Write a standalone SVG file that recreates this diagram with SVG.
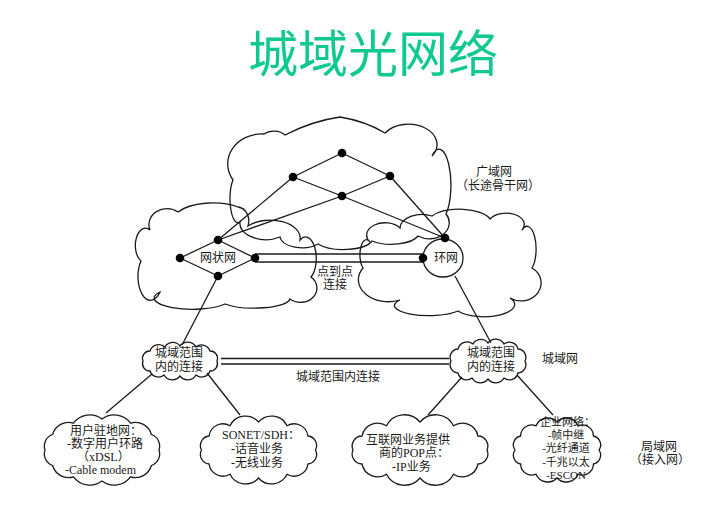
<svg xmlns="http://www.w3.org/2000/svg" width="709" height="522" viewBox="0 0 709 522">
<style>
.cl{fill:none;stroke:#1a1a1a;stroke-width:1.3}
.ln{stroke:#1a1a1a;stroke-width:1.3;fill:none}
.dot{fill:#000}
.t{font-family:"Liberation Serif","Noto Sans CJK SC",serif;font-size:12px;fill:#1a1a1a}
.s{font-size:11px}
.m{text-anchor:middle}
.title{font-family:"Noto Sans CJK SC","Noto Sans CJK JP",sans-serif;font-size:50px;fill:#10C98F;text-anchor:middle}
</style>
<rect width="709" height="522" fill="#fff"/>
<text class="title" x="373" y="72">城域光网络</text>

<g id="wan">
<path class="cl" d="M285,135 Q312,121 340,117 Q365,121 385,133 A28 20 0 0 1 432,156 A10 30 0 0 1 446,214 A20 16 0 0 1 418,236 A28 12 0 0 1 372,241 A30 12 0 0 1 318,244 A22 12 0 0 1 280,237 A26 16 0 0 1 240,222 A8 24 0 0 1 233,180 A34 30 0 0 1 264,134 A14 10 0 0 1 285,135 Z"/>
<text class="t m" x="494" y="176">广域网</text>
<text class="t m" x="498" y="190">（长途骨干网）</text>
</g>

<g id="mesh">
<path class="cl" d="M150,230 A18 16 0 0 1 178,212 A40 18 0 0 1 238,207 A12 14 0 0 1 248,226 A30 18 0 0 1 300,240 A10 20 0 0 1 311,277 A16 14 0 0 1 290,299 A36 10 0 0 1 225,304 A34 10 0 0 1 160,292 A10 19 0 0 1 141,261 A10 17 0 0 1 150,230 Z"/>
<text class="t m" x="218" y="262">网状网</text>
</g>

<g id="ring">
<path class="cl" d="M370,242 A18 12 0 0 1 400,228 A22 14 0 0 1 432,216 A32 14 0 0 1 490,219 A16 10 0 0 1 522,230 A8 20 0 0 1 532,268 A18 16 0 0 1 510,298 A30 12 0 0 1 458,311 A34 10 0 0 1 400,300 A30 22 0 0 1 363,268 A6 14 0 0 1 370,242 Z"/>
<ellipse class="cl" cx="443" cy="258" rx="20" ry="19"/>
<text class="t m" x="446" y="262">环网</text>
</g>

<g id="man-left">
<path class="cl" d="M143,361 A7.3 7.3 0 0 1 150,351 A9.3 9.3 0 0 1 165,347 A9 9 0 0 1 180,346 A9.6 9.6 0 0 1 196,347 A8.8 8.8 0 0 1 210,351 A7.3 7.3 0 0 1 217,361 A7.3 7.3 0 0 1 210,371 A8.8 8.8 0 0 1 196,375 A9.6 9.6 0 0 1 180,376 A9.6 9.6 0 0 1 164,375 A8.8 8.8 0 0 1 150,371 A7.3 7.3 0 0 1 143,361 Z"/>
<text class="t m" x="179" y="357">城域范围</text>
<text class="t m" x="179" y="371">内的连接</text>
</g>

<g id="man-right">
<path class="cl" d="M451,361 A8.3 8.3 0 0 1 458,349 A9.5 9.5 0 0 1 473,344 A9 9 0 0 1 488,343 A9.6 9.6 0 0 1 504,344 A8.9 8.9 0 0 1 518,349 A8.3 8.3 0 0 1 525,361 A8.3 8.3 0 0 1 518,373 A8.9 8.9 0 0 1 504,378 A9.6 9.6 0 0 1 488,379 A9.6 9.6 0 0 1 472,378 A8.9 8.9 0 0 1 458,373 A8.3 8.3 0 0 1 451,361 Z"/>
<text class="t m" x="491" y="357">城域范围</text>
<text class="t m" x="491" y="371">内的连接</text>
<text class="t" x="542" y="363">城域网</text>
</g>

<g id="cpe">
<path class="cl" d="M159,450 A12.2 12.2 0 0 1 151.4,465.5 A16.5 16.5 0 0 1 130.5,476.8 A20.2 20.2 0 0 1 102,481 A20.2 20.2 0 0 1 73.5,476.8 A16.5 16.5 0 0 1 52.6,465.5 A12.2 12.2 0 0 1 45,450 A12.2 12.2 0 0 1 52.6,434.5 A16.5 16.5 0 0 1 73.5,423.2 A20.2 20.2 0 0 1 102,419 A20.2 20.2 0 0 1 130.5,423.2 A16.5 16.5 0 0 1 151.4,434.5 A12.2 12.2 0 0 1 159,450 Z"/>
<text class="t" x="70" y="435">用户驻地网：</text>
<text class="t" x="67" y="448">-数字用户环路</text>
<text class="t" x="77" y="461">（xDSL）</text>
<text class="t" x="65" y="474">-Cable modem</text>
</g>

<g id="sonet">
<path class="cl" d="M315.5,450 A9.6 9.6 0 0 1 307.9,464 A13.9 13.9 0 0 1 287,474.2 A17.2 17.2 0 0 1 258.5,478 A17.2 17.2 0 0 1 230,474.2 A13.9 13.9 0 0 1 209.1,464 A9.6 9.6 0 0 1 201.5,450 A9.6 9.6 0 0 1 209.1,436 A13.9 13.9 0 0 1 230,425.8 A17.2 17.2 0 0 1 258.5,422 A17.2 17.2 0 0 1 287,425.8 A13.9 13.9 0 0 1 307.9,436 A9.6 9.6 0 0 1 315.5,450 Z"/>
<text class="t" x="222" y="439">SONET/SDH：</text>
<text class="t" x="231" y="453">-话音业务</text>
<text class="t" x="231" y="467">-无线业务</text>
</g>

<g id="isp">
<path class="cl" d="M487,450 A10 10 0 0 1 478,464 A16 16 0 0 1 453.5,474.2 A20.2 20.2 0 0 1 420,478 A20.2 20.2 0 0 1 386.5,474.2 A16 16 0 0 1 362,464 A10 10 0 0 1 353,450 A10 10 0 0 1 362,436 A16 16 0 0 1 386.5,425.8 A20.2 20.2 0 0 1 420,422 A20.2 20.2 0 0 1 453.5,425.8 A16 16 0 0 1 478,436 A10 10 0 0 1 487,450 Z"/>
<text class="t" x="366" y="444">互联网业务提供</text>
<text class="t" x="379" y="457">商的POP点：</text>
<text class="t" x="392" y="471">-IP业务</text>
</g>

<g id="enterprise">
<path class="cl" d="M599,450 A9 9 0 0 1 593.4,464 A11.1 11.1 0 0 1 578,474.2 A12.8 12.8 0 0 1 557,478 A12.8 12.8 0 0 1 536,474.2 A11.1 11.1 0 0 1 520.6,464 A9 9 0 0 1 515,450 A9 9 0 0 1 520.6,436 A11.1 11.1 0 0 1 536,425.8 A12.8 12.8 0 0 1 557,422 A12.8 12.8 0 0 1 578,425.8 A11.1 11.1 0 0 1 593.4,436 A9 9 0 0 1 599,450 Z"/>
<text class="t s" x="540" y="426">企业网络：</text>
<text class="t s m" x="566" y="439">-帧中继</text>
<text class="t s m" x="566" y="452">-光纤通道</text>
<text class="t s m" x="566" y="466">-千兆以太</text>
<text class="t s m" x="566" y="479">-ESCON</text>
<text class="t m" x="659" y="451">局域网</text>
<text class="t m" x="660" y="464">（接入网）</text>
</g>

<g id="connectors">
<line class="ln" x1="342" y1="153" x2="293" y2="177"/>
<line class="ln" x1="342" y1="153" x2="390" y2="176"/>
<line class="ln" x1="293" y1="177" x2="342" y2="196"/>
<line class="ln" x1="390" y1="176" x2="342" y2="196"/>
<line class="ln" x1="293" y1="177" x2="218" y2="240"/>
<line class="ln" x1="342" y1="196" x2="218" y2="240"/>
<line class="ln" x1="390" y1="176" x2="445" y2="238"/>
<line class="ln" x1="342" y1="196" x2="445" y2="238"/>
<line class="ln" x1="180" y1="258" x2="218" y2="240"/>
<line class="ln" x1="218" y1="240" x2="255" y2="258"/>
<line class="ln" x1="255" y1="258" x2="218" y2="276"/>
<line class="ln" x1="218" y1="276" x2="180" y2="258"/>
<line class="ln" x1="255" y1="254" x2="423" y2="254"/>
<line class="ln" x1="255" y1="262" x2="423" y2="262"/>
<line class="ln" x1="218" y1="276" x2="182" y2="345"/>
<line class="ln" x1="455" y1="276" x2="491" y2="343"/>
<line class="ln" x1="221" y1="358.5" x2="449" y2="358.5"/>
<line class="ln" x1="221" y1="364" x2="449" y2="364"/>
<line class="ln" x1="152" y1="374" x2="106" y2="413"/>
<line class="ln" x1="207" y1="373" x2="240" y2="415"/>
<line class="ln" x1="462" y1="377" x2="428" y2="415"/>
<line class="ln" x1="517" y1="375" x2="553" y2="415"/>
<text class="t m" x="335" y="276">点到点</text>
<text class="t m" x="335" y="289">连接</text>
<text class="t m" x="338" y="381">城域范围内连接</text>
</g>

<g id="dots">
<circle class="dot" cx="342" cy="153" r="4.3"/>
<circle class="dot" cx="293" cy="177" r="4.3"/>
<circle class="dot" cx="390" cy="176" r="4.3"/>
<circle class="dot" cx="342" cy="196" r="4.3"/>
<circle class="dot" cx="180" cy="258" r="4.3"/>
<circle class="dot" cx="218" cy="240" r="4.3"/>
<circle class="dot" cx="255" cy="258" r="4.3"/>
<circle class="dot" cx="218" cy="276" r="4.3"/>
<circle class="dot" cx="445" cy="238" r="4.3"/>
<circle class="dot" cx="423" cy="258" r="4.3"/>
</g>
</svg>
